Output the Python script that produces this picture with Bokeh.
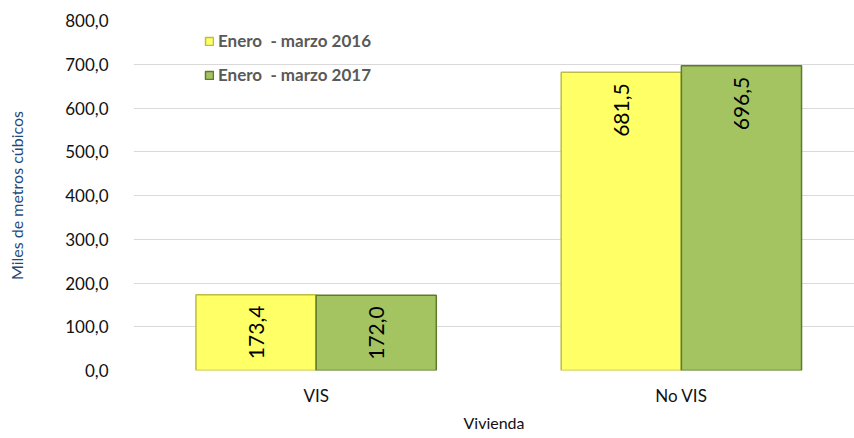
from bokeh.plotting import figure
from bokeh.models import (ColumnDataSource, Range1d, FixedTicker, LabelSet,
                          Legend, LegendItem)
from bokeh.core.properties import value
from bokeh.embed import file_html
from bokeh.resources import INLINE

categories = ["VIS", "No VIS"]
series_2016 = [173.4, 681.5]
series_2017 = [172.0, 696.5]
series_names = ["Enero  - marzo 2016", "Enero  - marzo 2017"]
y_ticks = [0, 100, 200, 300, 400, 500, 600, 700, 800]

FONT = "Lato"
pos = [i + 0.5 for i in range(len(categories))]
bw = 0.329

def fmt(v):
    return f"{v:.1f}".replace(".", ",")

src16 = ColumnDataSource(dict(x=[p - bw / 2 for p in pos], top=series_2016,
                              lab=[fmt(v) for v in series_2016]))
src17 = ColumnDataSource(dict(x=[p + bw / 2 for p in pos], top=series_2017,
                              lab=[fmt(v) for v in series_2017]))

p = figure(frame_width=721, frame_height=350, output_backend="svg",
           toolbar_location=None,
           x_range=Range1d(0, 1.974), y_range=Range1d(0, 800),
           min_border_left=133, min_border_right=0, min_border_top=20,
           min_border_bottom=62)
p.outline_line_color = None
p.background_fill_color = "white"

r16 = p.vbar(x="x", top="top", width=bw, source=src16, fill_color="#FFFF66",
             line_color="#BDBD45", line_width=1.5)
r17 = p.vbar(x="x", top="top", width=bw, source=src17, fill_color="#A4C462",
             line_color="#5F7A2C", line_width=1.5)

for s in (src16, src17):
    p.add_layout(LabelSet(x="x", y="top", text="lab", source=s, angle=1.5708,
                          text_align="right", text_baseline="middle",
                          y_offset=-11, text_font=value(FONT),
                          text_font_size="21px", text_color="black"))

p.xgrid.visible = False
p.ygrid.grid_line_color = "#D9D9D9"
p.ygrid.ticker = FixedTicker(ticks=y_ticks)

p.yaxis.ticker = FixedTicker(ticks=y_ticks)
p.yaxis.major_label_overrides = {t: fmt(t) for t in y_ticks}
p.yaxis.axis_line_color = None
p.yaxis.major_tick_line_color = None
p.yaxis.minor_tick_line_color = None
p.yaxis.major_label_standoff = 19
p.yaxis.major_label_text_font = FONT
p.yaxis.major_label_text_font_size = "17px"
p.yaxis.major_label_text_color = "#111111"
p.yaxis.axis_label = "Miles de metros cúbicos"
p.yaxis.axis_label_text_font = FONT
p.yaxis.axis_label_text_font_size = "16px"
p.yaxis.axis_label_text_font_style = "normal"
p.yaxis.axis_label_text_color = "#1F497D"
p.yaxis.axis_label_standoff = 36

p.xaxis.ticker = FixedTicker(ticks=pos)
p.xaxis.major_label_overrides = {pv: c for pv, c in zip(pos, categories)}
p.xaxis.axis_line_color = None
p.xaxis.major_tick_line_color = None
p.xaxis.minor_tick_line_color = None
p.xaxis.major_label_standoff = 8
p.xaxis.major_label_text_font = FONT
p.xaxis.major_label_text_font_size = "17px"
p.xaxis.major_label_text_color = "#111111"
p.xaxis.axis_label = "Vivienda"
p.xaxis.axis_label_text_font = FONT
p.xaxis.axis_label_text_font_size = "16px"
p.xaxis.axis_label_text_font_style = "normal"
p.xaxis.axis_label_text_color = "#111111"
p.xaxis.axis_label_standoff = 4

legend = Legend(items=[LegendItem(label=series_names[0], renderers=[r16]),
                       LegendItem(label=series_names[1], renderers=[r17])],
                location=(71, 285), padding=0, spacing=13, margin=0,
                glyph_width=10, glyph_height=10, label_height=20,
                label_standoff=4, label_text_font=FONT,
                label_text_font_size="17px", label_text_font_style="bold",
                label_text_color="#595959", background_fill_alpha=0,
                border_line_color=None)
p.add_layout(legend)

open("out.html", "w").write(file_html(p, INLINE))
